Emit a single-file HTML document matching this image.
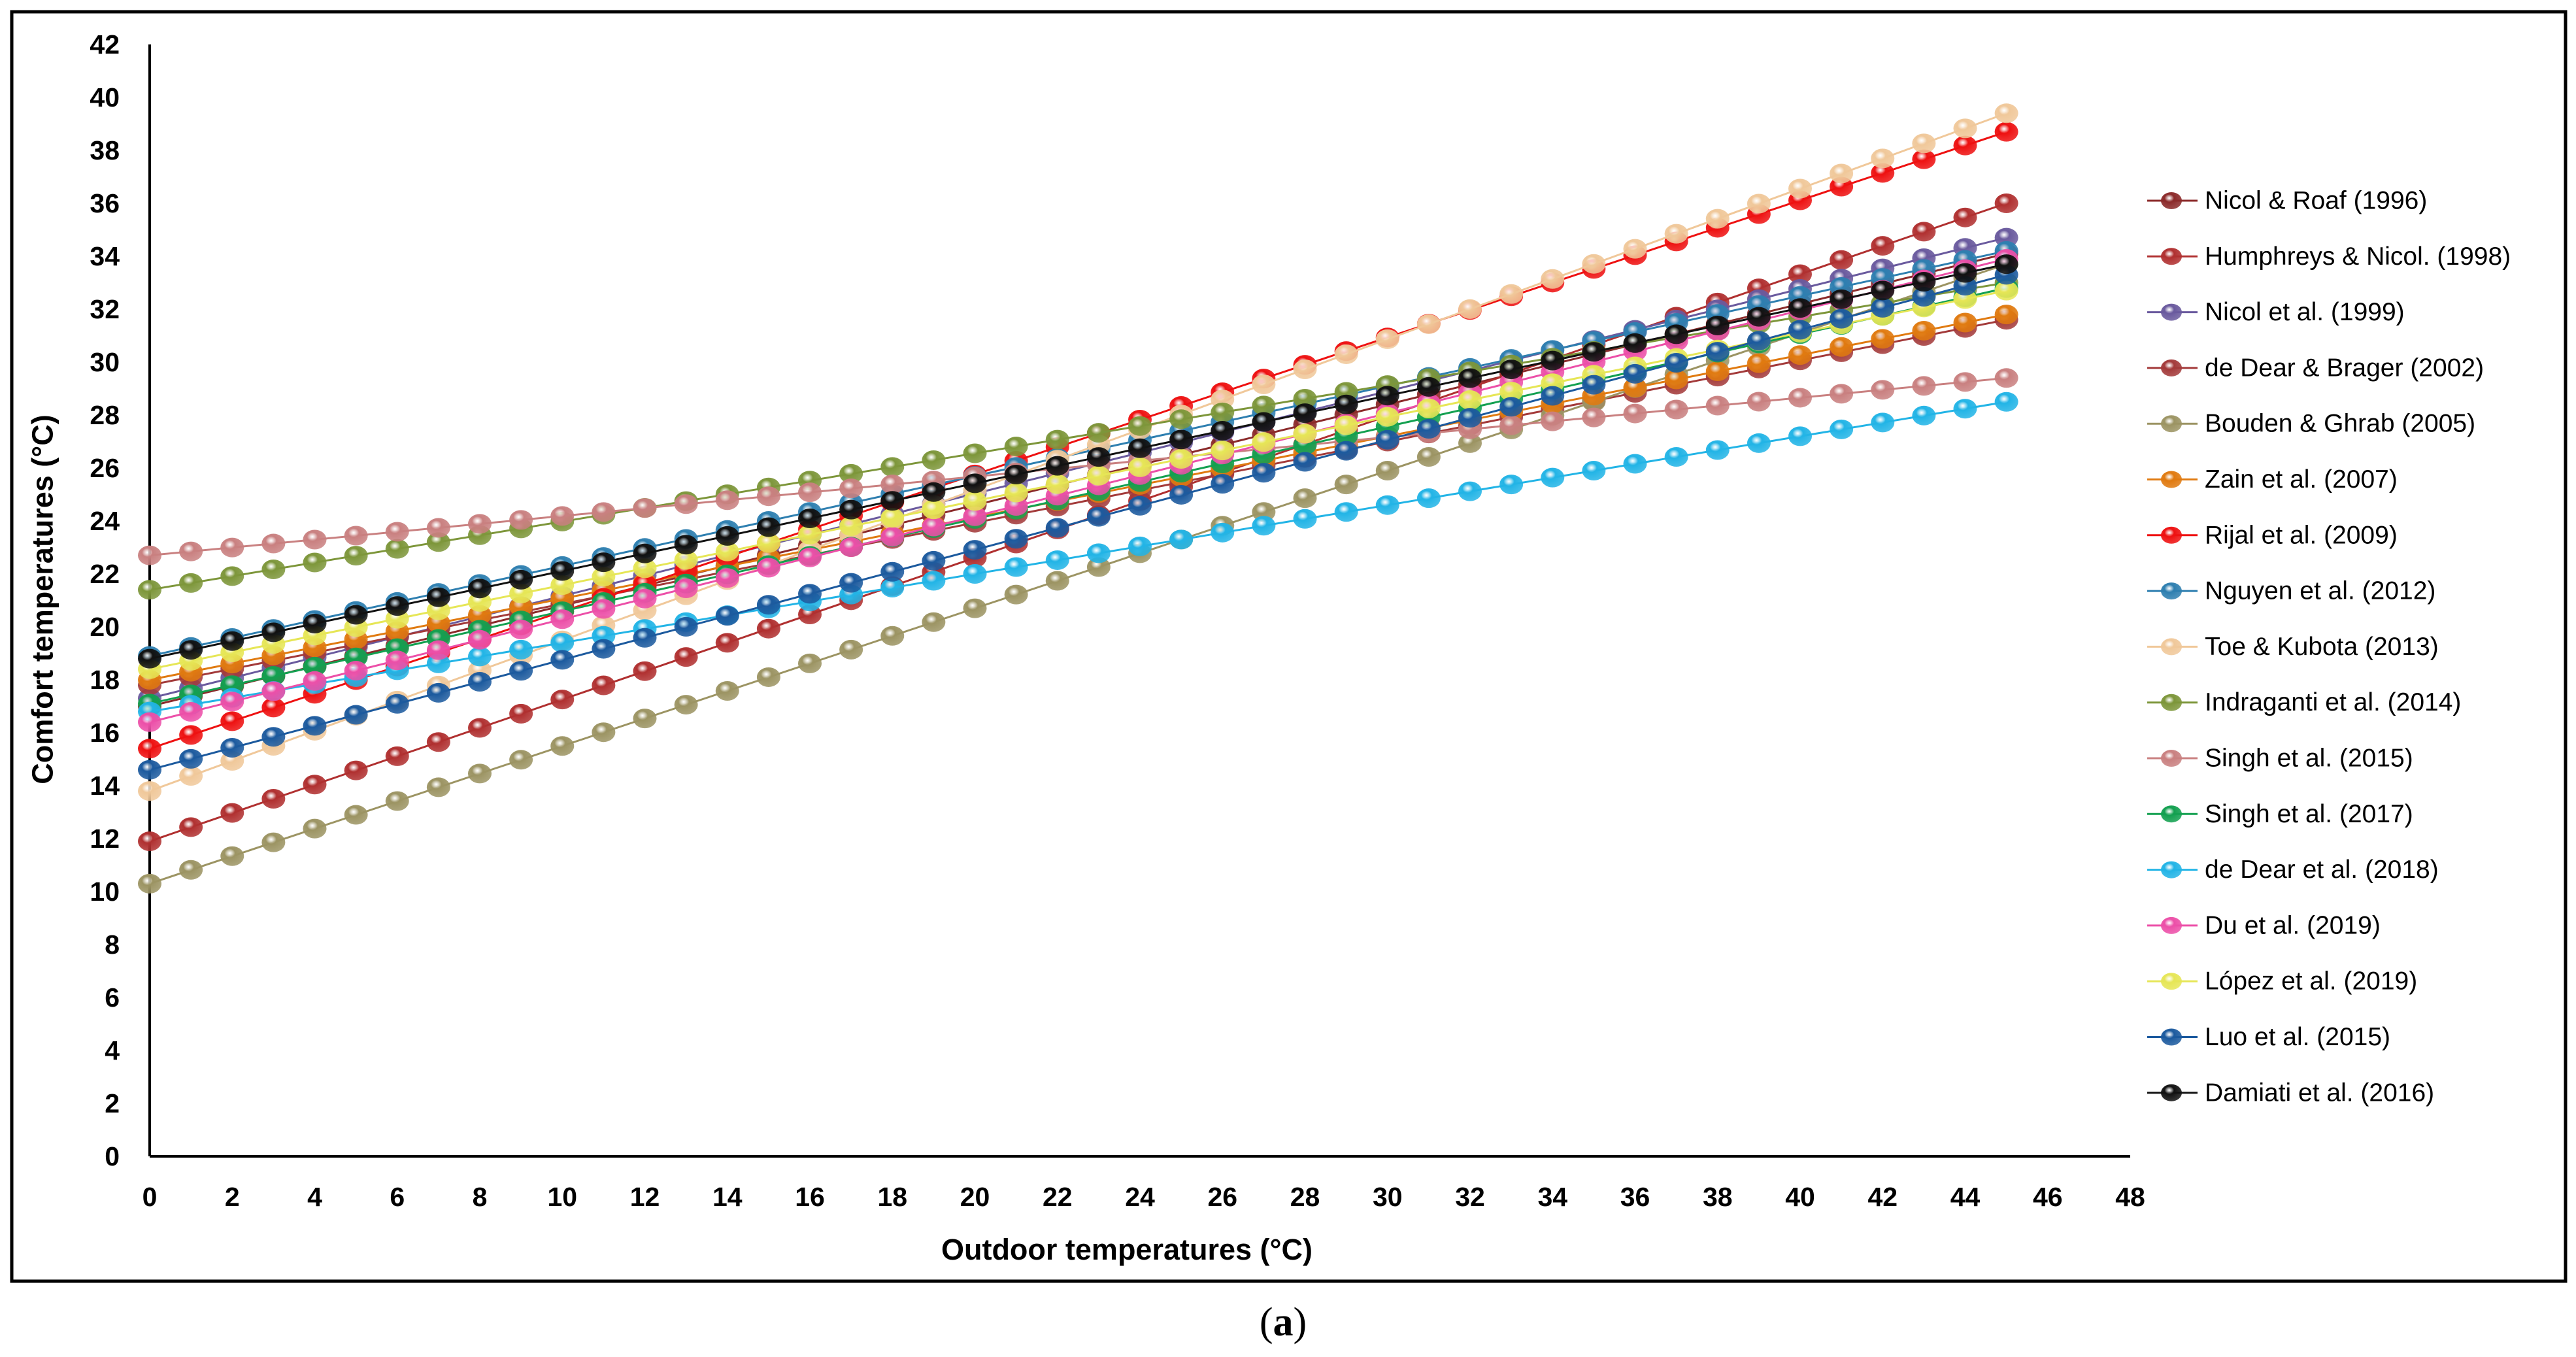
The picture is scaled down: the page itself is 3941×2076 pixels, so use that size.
<!DOCTYPE html>
<html><head><meta charset="utf-8"><style>
html,body{margin:0;padding:0;background:#fff;}
svg{display:block;font-family:"Liberation Sans",Arial,sans-serif;}
</style></head><body>
<svg id="chart" width="3941" height="2076" viewBox="0 0 3941 2076" xmlns="http://www.w3.org/2000/svg">
<defs id="defs"></defs>
<rect x="18" y="18" width="3907" height="1942" fill="#fff" stroke="#000" stroke-width="5"/>
<g id="axes"></g>
<g id="series"></g>
<g id="legend"></g>
<text x="65" y="917" transform="rotate(-90 65 917)" text-anchor="middle" dominant-baseline="central" font-size="45" font-weight="bold">Comfort temperatures (°C)</text>
<text x="1724" y="1927" text-anchor="middle" font-size="45" font-weight="bold">Outdoor temperatures (°C)</text>
<text x="1963" y="2043" text-anchor="middle" font-size="62" font-family="'Liberation Serif',serif">(<tspan font-weight="bold">a</tspan>)</text>
</svg>
<script>
const names = ["Nicol & Roaf (1996)","Humphreys & Nicol. (1998)","Nicol et al. (1999)","de Dear & Brager (2002)","Bouden & Ghrab (2005)","Zain et al. (2007)","Rijal et al. (2009)","Nguyen et al. (2012)","Toe & Kubota (2013)","Indraganti et al. (2014)","Singh et al. (2015)","Singh et al. (2017)","de Dear et al. (2018)","Du et al. (2019)","López et al. (2019)","Luo et al. (2015)","Damiati et al. (2016)"];
const colors = ["#8b2a2a","#b03030","#6a5a9e","#a33a3a","#9c9463","#e07a10","#ee1111","#2e7fb0","#f0c89a","#7d963a","#c98080","#13a050","#22b4e6","#ec4fa8","#e6e656","#1c5a9e","#111111"];
const startVals = [17.0,11.9,17.3,17.8,10.3,18.0,15.4,18.9,13.8,21.4,22.7,17.1,16.8,16.4,18.4,14.6,18.8];
const endVals   = [34.1,36.0,34.7,31.6,33.7,31.8,38.7,34.2,39.4,33.0,29.4,32.8,28.5,33.9,32.7,33.3,33.7];
const xTicks = [0,2,4,6,8,10,12,14,16,18,20,22,24,26,28,30,32,34,36,38,40,42,44,46,48];
const yTicks = [0,2,4,6,8,10,12,14,16,18,20,22,24,26,28,30,32,34,36,38,40,42];
const xMin=0,xMax=48,yMin=0,yMax=42,lastX=45;
const X0=229,X1=3259,Y0=1769,Y1=68;
const sx=v=>X0+(v-xMin)/(xMax-xMin)*(X1-X0);
const sy=v=>Y0-(v-yMin)/(yMax-yMin)*(Y0-Y1);
const NS="http://www.w3.org/2000/svg";
function mk(tag,attrs,parent){const e=document.createElementNS(NS,tag);for(const k in attrs)e.setAttribute(k,attrs[k]);parent.appendChild(e);return e;}
const defs=document.getElementById('defs'),axes=document.getElementById('axes'),ser=document.getElementById('series'),leg=document.getElementById('legend');
colors.forEach((c,i)=>{const g=mk('radialGradient',{id:'g'+i,cx:'40%',cy:'35%',r:'65%'},defs);
mk('stop',{offset:'0%','stop-color':'#fff','stop-opacity':'0.75'},g);
mk('stop',{offset:'35%','stop-color':c},g);
mk('stop',{offset:'100%','stop-color':c,'stop-opacity':'0.85'},g);});
const yl=mk('line',{x1:X0,y1:Y1,x2:X0,y2:Y0,stroke:'#000','stroke-width':4},axes);


const xl=mk('line',{x1:X0,y1:Y0,x2:X1,y2:Y0,stroke:'#000','stroke-width':4},axes);


yTicks.forEach(v=>{const t=mk('text',{x:183,y:sy(v),'text-anchor':'end','dominant-baseline':'central','font-size':41,'font-weight':'bold'},axes);t.textContent=v;

});
xTicks.forEach(v=>{const t=mk('text',{x:sx(v),y:1845,'text-anchor':'middle','font-size':41,'font-weight':'bold'},axes);t.textContent=v;

});
names.forEach((n,i)=>{const g=mk('g',{},ser);


const ln=mk('line',{x1:sx(0),y1:sy(startVals[i]),x2:sx(lastX),y2:sy(endVals[i]),stroke:colors[i],'stroke-width':3},g);


for(let k=0;k<=lastX;k++){const v=startVals[i]+(endVals[i]-startVals[i])*k/lastX;
const m=mk('ellipse',{cx:sx(k),cy:sy(v),rx:18,ry:15,fill:'url(#g'+i+')'},g);

}});
names.forEach((n,i)=>{const y=307+i*85.3;const g=mk('g',{},leg);


mk('line',{x1:3285,y1:y,x2:3362,y2:y,stroke:colors[i],'stroke-width':3},g);
mk('ellipse',{cx:3322,cy:y,rx:16,ry:13,fill:'url(#g'+i+')'},g);
const t=mk('text',{x:3373,y:y,'dominant-baseline':'central','font-size':39},g);t.textContent=n;});
</script>
</body></html>
